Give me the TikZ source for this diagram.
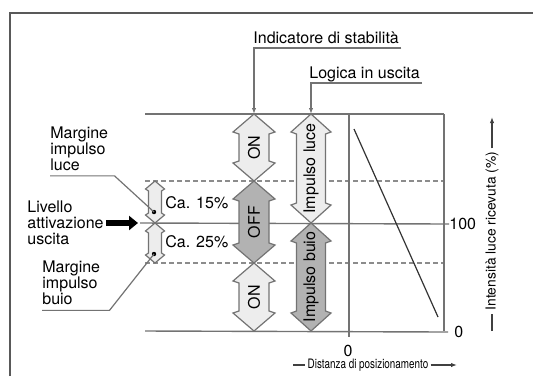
\documentclass[tikz,border=0pt]{standalone}
\usepackage{fontspec}
\setmainfont{TeX Gyre Heros}
\newfontfamily\narrowfont[FakeStretch=0.76]{TeX Gyre Heros}
\usetikzlibrary{arrows.meta}

% block arrow with two heads: name, x, y top, y bottom, look, text
\newcommand{\dblarrow}[6]{%
  \filldraw[#5] (#2,#3) -- ({#2+\headw},{#3+\headl}) -- ({#2+\shaftw},{#3+\headl+2})
    -- ({#2+\shaftw},{#4-\headl-2}) -- ({#2+\headw},{#4-\headl}) -- (#2,#4)
    -- ({#2-\headw},{#4-\headl}) -- ({#2-\shaftw},{#4-\headl-2})
    -- ({#2-\shaftw},{#3+\headl+2}) -- ({#2-\headw},{#3+\headl}) -- cycle;
  \coordinate (#1-t) at (#2,#3);
  \coordinate (#1-b) at (#2,#4);
  \node[arrtext] (#1) at ({#2},{(#3+#4)/2}) {#6};}

\begin{document}
\begin{tikzpicture}[x=0.5pt,y=-0.5pt,>={Latex[length=3pt,width=2.2pt]},
  every node/.style={inner sep=0pt,font=\fontsize{8}{8}\selectfont},
  grid/.style={black!55,line width=0.7pt},
  gridd/.style={black!45,line width=0.6pt,dash pattern=on 2.5pt off 1.5pt},
  callout/.style={black!55,line width=0.6pt},
  axlbl/.style={black!75,line width=0.6pt},
  light/.style={draw=black!55,fill=black!7,line width=0.6pt},
  dark/.style={draw=black!55,fill=black!30,line width=0.6pt},
  arrtext/.style={rotate=90}]
  \useasboundingbox (0,0) rectangle (533,376);
  \draw[black!65,line width=1pt] (10,376) -- (10,13) -- (533,13);
  % levels and scale
  \node[anchor=west] (t100) at (449,224) {100};
  \node[anchor=west,inner xsep=3pt] (t0) at (448,332) {0};
  \node (x0) at (348,351) {0};
  \draw[grid] (145,114) -- (444,114);
  \draw[gridd] (145,181) -- (444,181);
  \draw[grid] (140,223) -- (t100.west);
  \draw[gridd] (145,263) -- (444,263);
  \draw[grid] (145,331) -- (t0.west);
  \draw[grid] (349,114) -- (349,337);
  \draw[grid] (444,114) -- (444,331);
  \draw[black!80,line width=0.6pt] (354,129) -- (438,317);
  % stability column
  \def\shaftw{15}\def\headw{21}\def\headl{18}
  \dblarrow{on1}{254}{114}{181}{light}{ON}
  \dblarrow{off}{254}{181}{263}{dark}{OFF}
  \dblarrow{on2}{254}{263}{331}{light}{ON}
  % output logic column
  \def\shaftw{14.5}\def\headw{20}
  \dblarrow{luce}{311}{114}{223}{light}{Impulso luce}
  \dblarrow{buio}{311}{223}{331}{dark}{Impulso buio}
  % margins
  \def\shaftw{6.5}\def\headw{9.5}\def\headl{8}
  \dblarrow{m15}{155}{181}{223}{light}{}
  \dblarrow{m25}{155}{223}{263}{light}{}
  \node[anchor=west] (ca15) at (165,203) {Ca. 15\%};
  \node[anchor=west] (ca25) at (165,242) {Ca. 25\%};
  \coordinate (dotL) at (154,212);
  \coordinate (dotB) at (154,254);
  \fill (dotL) circle (1.1pt);
  \fill (dotB) circle (1.1pt);
  % callouts on top
  \node[anchor=base west] (stab) at (253,43) {Indicatore di stabilità};
  \coordinate (stab-ul) at ([yshift=-2.5pt,xshift=1pt]stab.base east);
  \draw[callout,->] (stab-ul) -- (on1-t |- stab-ul) -- (on1-t);
  \node[anchor=base west] (logic) at (309,78) {Logica in uscita};
  \coordinate (logic-ul) at ([yshift=-2.5pt,xshift=1pt]logic.base east);
  \draw[callout,->] (logic-ul) -- (luce-t |- logic-ul) -- (luce-t);
  % callouts on the left
  \node[anchor=west,align=left] (mluce) at (50,149) {Margine\\impulso\\luce};
  \draw[callout] ([yshift=-2.25pt]mluce.south west) -- ([yshift=-2.25pt,xshift=3pt]mluce.south east) -- (dotL);
  \node[anchor=west,align=left] (livello) at (27,223) {Livello\\attivazione\\uscita};
  \coordinate (lvl) at (138,223);
  \draw[line width=3.3pt,-{Triangle[length=4.5pt,width=7pt]}] (livello.east |- lvl) ++(2,0) -- (lvl);
  \node[anchor=west,align=left] (mbuio) at (42,283) {Margine\\impulso\\buio};
  \draw[callout] ([yshift=-2.5pt]mbuio.south west) -- ([yshift=-2.5pt,xshift=4.5pt]mbuio.south east) -- (dotB);
  % axis captions
  \node[rotate=90,inner sep=1.5pt,font=\fontsize{6.9}{8}\selectfont] (intens) at (492,231) {Intensità luce ricevuta (\%)};
  \coordinate (ybase) at (492,331);
  \coordinate (ytop) at (492,117);
  \draw[axlbl] (ybase) -- (intens.west);
  \draw[axlbl,->] (intens.east) -- (ytop);
  \node[inner sep=1pt,font=\narrowfont\fontsize{6.5}{8}\selectfont] (dist) at (368,365) {Distanza di posizionamento};
  \coordinate (xbase) at (293,365);
  \coordinate (xtip) at (457,365);
  \draw[axlbl] (xbase) -- (dist.west);
  \draw[axlbl,->] (dist.east) -- (xtip);
\end{tikzpicture}
\end{document}
